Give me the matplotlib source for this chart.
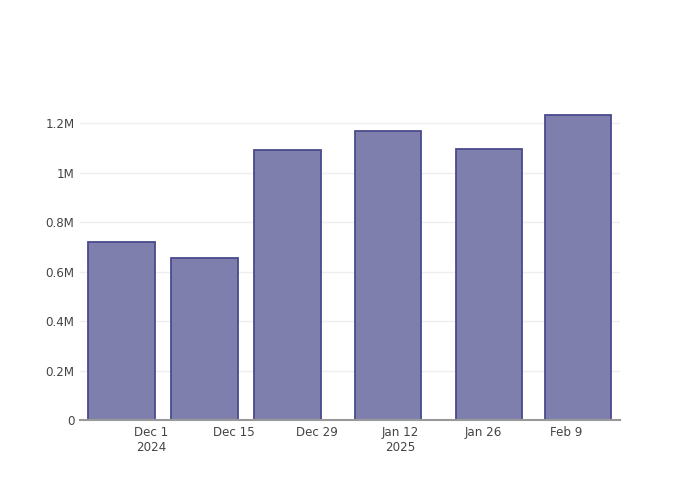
import datetime as dt
import matplotlib
matplotlib.use('Agg')
import matplotlib.pyplot as plt
import matplotlib.dates as mdates

# data
bar_dates = ['2024-11-26', '2024-12-10', '2024-12-24', '2025-01-10', '2025-01-27', '2025-02-11']
values = [721000, 655000, 1092000, 1169000, 1096000, 1233000]

tick_dates = ['2024-12-01', '2024-12-15', '2024-12-29', '2025-01-12', '2025-01-26', '2025-02-09']
tick_labels = ['Dec 1\n2024', 'Dec 15', 'Dec 29', 'Jan 12\n2025', 'Jan 26', 'Feb 9']

y_ticks = [0, 200000, 400000, 600000, 800000, 1000000, 1200000]
y_labels = ['0', '0.2M', '0.4M', '0.6M', '0.8M', '1M', '1.2M']

to_dt = lambda s: dt.datetime.strptime(s, '%Y-%m-%d')
x = [to_dt(d) for d in bar_dates]

plt.rcParams['font.family'] = ['DejaVu Sans']
fig = plt.figure(figsize=(7, 5), dpi=100)
ax = fig.add_axes([80 / 700, 80 / 500, 540 / 700, 320 / 500])

ax.bar(x, values, width=11.2, color='#7f7fae', edgecolor='#4a4a8c', linewidth=1.3, zorder=3)

ax.set_xlim(to_dt('2024-11-19'), to_dt('2025-02-18') + dt.timedelta(hours=2))
ax.set_ylim(0, 1295000)

ax.set_xticks([mdates.date2num(to_dt(d)) for d in tick_dates])
ax.set_xticklabels(tick_labels, fontsize=8.6, color='#444444', linespacing=1.25)
ax.set_yticks(y_ticks)
ax.set_yticklabels(y_labels, fontsize=8.6, color='#444444')
ax.tick_params(axis='both', length=0)
ax.tick_params(axis='x', pad=4)
ax.tick_params(axis='y', pad=4)

ax.grid(axis='y', color='#eeeeee', linewidth=1, zorder=0)
for s in ['top', 'right', 'left']:
    ax.spines[s].set_visible(False)
ax.spines['bottom'].set_color('#999999')
ax.spines['bottom'].set_linewidth(1.5)
ax.spines['bottom'].set_zorder(4)

fig.savefig('out.png', dpi=100)
